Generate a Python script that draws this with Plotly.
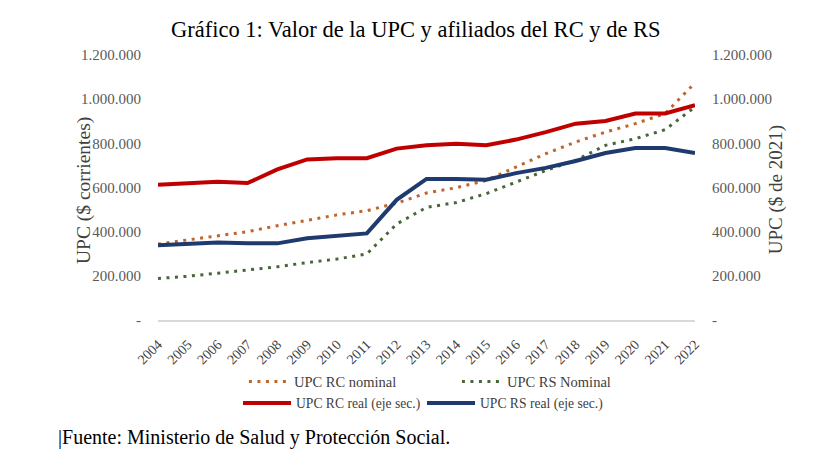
import plotly.graph_objects as go

years = [str(y) for y in range(2004, 2023)]
rc_nominal = [344000, 362000, 380000, 400000, 427000, 453000, 476000, 495000, 529000, 575000,
              599000, 632000, 692000, 753000, 806000, 851000, 889000, 935000, 1074000]
rs_nominal = [188000, 198000, 212000, 227000, 241000, 260000, 276000, 299000, 435000, 510000,
              532000, 572000, 624000, 677000, 723000, 791000, 821000, 862000, 965000]
rc_real = [613000, 620000, 626000, 620000, 682000, 727000, 733000, 733000, 776000, 791000,
           798000, 791000, 817000, 851000, 889000, 901000, 935000, 935000, 973000]
rs_real = [339000, 347000, 351000, 347000, 347000, 370000, 379000, 392000, 544000, 639000,
           639000, 635000, 665000, 689000, 720000, 756000, 779000, 779000, 756000]

tick_vals = [0, 200000, 400000, 600000, 800000, 1000000, 1200000]
tick_text = ["-", "200.000", "400.000", "600.000", "800.000", "1.000.000", "1.200.000"]

title_text = "Gráfico 1: Valor de la UPC y afiliados del RC y de RS"
left_title = "UPC ($ corrientes)"
right_title = "UPC ($ de 2021)"
source_text = "|Fuente: Ministerio de Salud y Protección Social."

FONT = "Liberation Serif, Times New Roman, serif"

fig = go.Figure()
fig.add_trace(go.Scatter(x=years, y=rc_nominal, name="UPC RC nominal", mode="lines",
                         line=dict(color="#C0652B", width=3, dash="3px,5.5px"), legend="legend"))
fig.add_trace(go.Scatter(x=years, y=rs_nominal, name="UPC RS Nominal", mode="lines",
                         line=dict(color="#48663A", width=3, dash="3px,5.5px"), legend="legend"))
fig.add_trace(go.Scatter(x=years, y=rc_real, name="UPC RC real (eje sec.)", mode="lines",
                         line=dict(color="#C00000", width=4), yaxis="y2", legend="legend2"))
fig.add_trace(go.Scatter(x=years, y=rs_real, name="UPC RS real (eje sec.)", mode="lines",
                         line=dict(color="#1F3A6E", width=4), yaxis="y2", legend="legend2"))

axis_font = dict(family=FONT, size=15, color="#595959")

fig.update_layout(
    width=817, height=472,
    margin=dict(l=158, r=122, t=55, b=152),
    paper_bgcolor="white", plot_bgcolor="white",
    font=dict(family=FONT, color="#000000"),
    showlegend=True,
    xaxis=dict(type="category", tickangle=-45, showgrid=False, zeroline=False,
               showline=True, linecolor="#D9D9D9", linewidth=1.5,
               tickfont=dict(family=FONT, size=14, color="#404040"),
               ticks="outside", ticklen=9, tickcolor="rgba(0,0,0,0)"),
    yaxis=dict(range=[0, 1200000], tickvals=tick_vals, ticktext=tick_text, showgrid=False,
               zeroline=False, showline=False, tickfont=axis_font,
               ticks="outside", ticklen=13, tickcolor="rgba(0,0,0,0)"),
    yaxis2=dict(range=[0, 1200000], tickvals=tick_vals, ticktext=tick_text, showgrid=False,
                zeroline=False, showline=False, overlaying="y", side="right", tickfont=axis_font,
                ticks="outside", ticklen=13, tickcolor="rgba(0,0,0,0)"),
    legend=dict(orientation="h", x=0.16, xanchor="left", y=-0.232, yanchor="middle",
                font=dict(family=FONT, size=14.5, color="#404040"), entrywidth=158,
                bgcolor="rgba(0,0,0,0)", tracegroupgap=0, itemwidth=40),
    legend2=dict(orientation="h", x=0.149, xanchor="left", y=-0.314, yanchor="middle",
                 font=dict(family=FONT, size=13.6, color="#404040"), entrywidth=121,
                 bgcolor="rgba(0,0,0,0)", itemwidth=48),
    annotations=[
        dict(text=title_text, xref="paper", yref="paper", x=0.48, y=1.0, yshift=11,
             xanchor="center", yanchor="bottom", showarrow=False,
             font=dict(family=FONT, size=22.5, color="#000000")),
        dict(text=left_title, xref="paper", yref="paper", x=-0.138, y=0.49, textangle=-90,
             xanchor="center", yanchor="middle", showarrow=False,
             font=dict(family=FONT, size=19.5, color="#404040")),
        dict(text=right_title, xref="paper", yref="paper", x=1.151, y=0.49, textangle=-90,
             xanchor="center", yanchor="middle", showarrow=False,
             font=dict(family=FONT, size=19, color="#404040")),
        dict(text=source_text, xref="paper", yref="paper", x=-0.19, y=-0.443,
             xanchor="left", yanchor="middle", showarrow=False,
             font=dict(family=FONT, size=20, color="#000000")),
    ],
)

fig.write_html("out.html", config={"displayModeBar": False},
               post_script="document.body.style.margin='0';")
